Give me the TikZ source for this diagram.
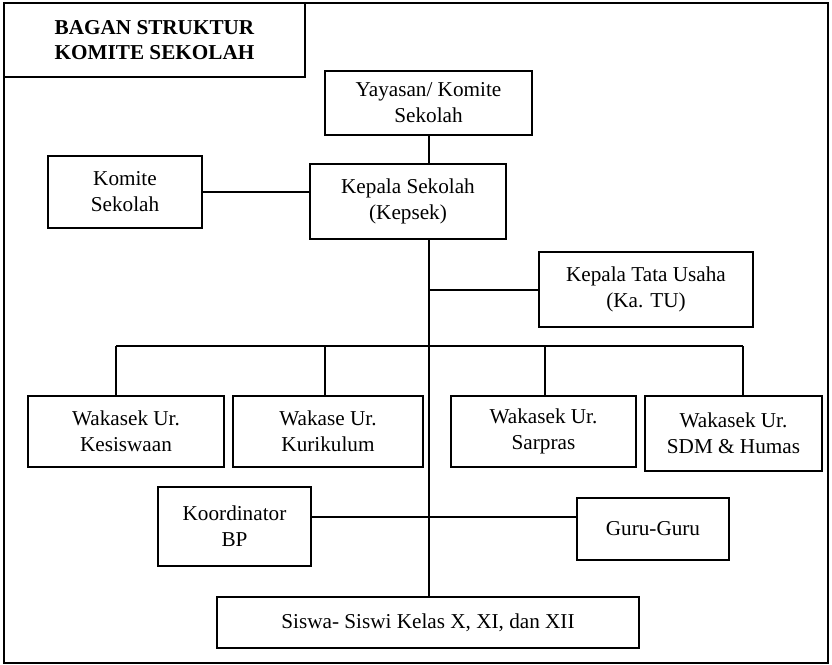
\documentclass[tikz,border=0pt]{standalone}
\usepackage{fontspec}
\setmainfont{Liberation Serif}
\usetikzlibrary{positioning, calc}

\begin{document}
\begin{tikzpicture}[
  x=0.5pt, y=-0.5pt,
  every node/.style={font=\fontsize{10.6}{13}\selectfont},
  unit/.style={rectangle, draw, line width=1pt, align=center, inner sep=0pt},
  heading/.style={rectangle, draw, line width=0.6pt, align=center, inner sep=0pt, font=\fontsize{10.6}{12.5}\selectfont\bfseries},
  link/.style={line width=1pt}
]
\useasboundingbox (0,0) rectangle (832,665);

%--------------------------------------
% Frame and title
%--------------------------------------
\draw[line width=0.6pt] (4,3) rectangle (828,663);
\node[heading, minimum width=150.5pt, minimum height=37pt] (title) at (154.5,40) {BAGAN STRUKTUR\\KOMITE SEKOLAH};

%--------------------------------------
% Top of the chart
%--------------------------------------
\node[unit, minimum width=103.5pt, minimum height=32pt] (yayasan) at (428.5,103) {Yayasan/ Komite\\Sekolah};
\node[unit, minimum width=98pt, minimum height=37.5pt] (kepsek) at (408,201.5) {Kepala Sekolah\\(Kepsek)};
\node[unit, minimum width=77pt, minimum height=36pt] (komite) at (125,192) {Komite\\Sekolah};
\node[unit, minimum width=107pt, minimum height=37.5pt] (tu) at (646,289.5) {Kepala Tata Usaha\\(Ka. TU)};

%--------------------------------------
% Wakasek row
%--------------------------------------
\node[unit, minimum width=98pt, minimum height=35.5pt] (kesiswaan) at (126,431.5) {Wakasek Ur.\\Kesiswaan};
\node[unit, minimum width=95pt, minimum height=35.5pt] (kurikulum) at (328,431.5) {Wakase Ur.\\Kurikulum};
\node[unit, minimum width=92.5pt, minimum height=35.5pt] (sarpras) at (543.5,431.5) {Wakasek Ur.\\Sarpras};
\node[unit, minimum width=88.5pt, minimum height=37.5pt] (sdm) at (733.5,433.5) {Wakasek Ur.\\SDM \& Humas};

%--------------------------------------
% Bottom of the chart
%--------------------------------------
\node[unit, minimum width=76.5pt, minimum height=39.5pt] (koordinator) at (234.5,526.5) {Koordinator\\BP};
\node[unit, minimum width=76pt, minimum height=31pt] (guru) at (653,529) {Guru-Guru};
\node[unit, minimum width=211pt, minimum height=25.5pt] (siswa) at (428,622.5) {Siswa- Siswi Kelas X, XI, dan XII};

%--------------------------------------
% Connections
%--------------------------------------
\coordinate (trunk) at (429,239);
\coordinate (tujoin) at (429,290);
\coordinate (bpjoin) at (311,517);
\coordinate (busa) at (116,346);
\coordinate (busb) at (325,346);
\coordinate (busc) at (545,346);
\coordinate (busd) at (743,346);

\draw[link] (yayasan.south) -- (yayasan.south |- kepsek.north);
\draw[link] (komite.east) -- (komite.east -| kepsek.west);
\draw[link] (trunk) -- (trunk |- siswa.north);
\draw[link] (tujoin) -- (tujoin -| tu.west);
\draw[link] (busa) -- (busd);
\draw[link] (busa) -- (busa |- kesiswaan.north);
\draw[link] (busb) -- (busb |- kurikulum.north);
\draw[link] (busc) -- (busc |- sarpras.north);
\draw[link] (busd) -- (busd |- sdm.north);
\draw[link] (bpjoin) -- (bpjoin -| guru.west);

\end{tikzpicture}
\end{document}
